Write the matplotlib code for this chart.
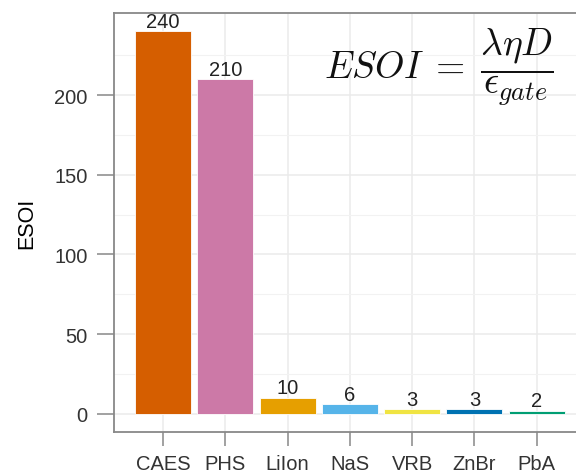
import numpy as np
import matplotlib.pyplot as plt

plt.rcParams['font.family'] = ['Liberation Sans', 'DejaVu Sans']
plt.rcParams['mathtext.fontset'] = 'cm'

tech = ['CAES', 'PHS', 'LiIon', 'NaS', 'VRB', 'ZnBr', 'PbA']
esoi = [240, 210, 10, 6, 3, 3, 2]
colors = ['#D55E00', '#CC79A7', '#E69F00', '#56B4E9', '#F0E442', '#0072B2', '#009E73']

fig = plt.figure(figsize=(5.76, 4.77), dpi=100)
# panel runs slightly past the right edge, as in the reference crop
ax = fig.add_axes([0.198, 0.092, 0.819, 0.8786])

x = np.arange(len(tech))
ax.bar(x, esoi, width=0.9, color=colors, edgecolor='white', linewidth=0.6, zorder=3)
for xi, v in zip(x, esoi):
    ax.text(xi, v + 0.3, str(v), ha='center', va='bottom', fontsize=14.5, color='#222222', zorder=4)

ax.set_xlim(-0.79, len(tech) - 1 + 0.79)
ax.set_ylim(-11.5, 251.5)
ax.set_xticks(x)
ax.set_xticklabels(tech)
ax.set_yticks([0, 50, 100, 150, 200])
ax.set_yticks([25, 75, 125, 175, 225], minor=True)

ax.grid(which='major', color='#ebebeb', linewidth=1.1, zorder=0)
ax.grid(which='minor', axis='y', color='#f2f2f2', linewidth=0.8, zorder=0)
ax.set_axisbelow(True)

for s in ax.spines.values():
    s.set_color('#888888')
    s.set_linewidth(1.3)

ax.tick_params(axis='both', which='major', colors='#888888', labelcolor='#333333',
               labelsize=14.5, width=1.1)
ax.tick_params(axis='y', length=12, pad=7)
ax.tick_params(axis='x', length=10, pad=6)
ax.tick_params(which='minor', length=0)

ax.set_ylabel('ESOI', fontsize=15.5, color='black', labelpad=12)

ax.text(0.688, 0.872, r'$ESOI\;=\;\dfrac{\lambda\eta D}{\epsilon_{gate}}$', transform=ax.transAxes,
        ha='center', va='center', fontsize=27, color='#111111')

fig.savefig('out.png', dpi=100)
